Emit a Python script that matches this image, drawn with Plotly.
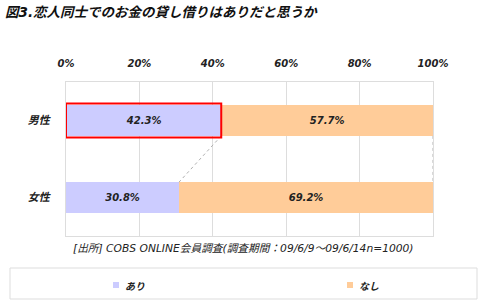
import plotly.graph_objects as go

# ---- data ----
categories = ["男性", "女性"]
ari = [42.3, 30.8]      # あり
nashi = [57.7, 69.2]    # なし
series_names = ["あり", "なし"]
tick_vals = [0, 20, 40, 60, 80, 100]
tick_text = ["0%", "20%", "40%", "60%", "80%", "100%"]
title_text = "図3.恋人同士でのお金の貸し借りはありだと思うか"
source_text = "[出所] COBS ONLINE会員調査(調査期間：09/6/9～09/6/14n=1000)"

# ---- style ----
W, H = 485, 302
L, R, T, B = 66, 52, 82, 66
PW, PH = W - L - R, H - T - B
C_ARI = "#CCCCFF"
C_NASHI = "#FFCC99"
FONT = "DejaVu Sans, Noto Sans CJK JP"
CJK = "Noto Sans CJK JP"
BW = 0.40

def px(x):
    return (x - L) / PW

def py(y):
    return (H - B - y) / PH

ypos = list(range(len(categories)))

fig = go.Figure()
fig.add_trace(go.Bar(
    y=ypos, x=ari, orientation="h", width=BW, name=series_names[0],
    marker=dict(color=C_ARI, line=dict(width=0)),
    text=[f"{v:.1f}%" for v in ari], textposition="inside",
    insidetextanchor="middle", textangle=0,
    textfont=dict(family=FONT, size=10, color="#222", style="italic", weight=700),
    showlegend=False, hoverinfo="skip"))
fig.add_trace(go.Bar(
    y=ypos, x=nashi, orientation="h", width=BW, name=series_names[1],
    marker=dict(color=C_NASHI, line=dict(width=0)),
    text=[f"{v:.1f}%" for v in nashi], textposition="inside",
    insidetextanchor="middle", textangle=0,
    textfont=dict(family=FONT, size=10, color="#222", style="italic", weight=700),
    showlegend=False, hoverinfo="skip"))

# series lines (dotted connectors)
fig.add_trace(go.Scatter(
    x=[ari[0], ari[1]], y=[ypos[0] + BW / 2, ypos[1] - BW / 2], mode="lines",
    line=dict(color="#B0B0B0", width=1, dash="dot"), showlegend=False, hoverinfo="skip"))
fig.add_trace(go.Scatter(
    x=[ari[0] + nashi[0], ari[1] + nashi[1]], y=[ypos[0] + BW / 2, ypos[1] - BW / 2], mode="lines",
    line=dict(color="#B0B0B0", width=1, dash="dot"), showlegend=False, hoverinfo="skip"))

shapes = []
# red highlight box
shapes.append(dict(type="rect", xref="x", yref="y", x0=0, x1=ari[0],
                   y0=ypos[0] - BW / 2 - 0.02, y1=ypos[0] + BW / 2 + 0.02,
                   line=dict(color="#FF0000", width=2), fillcolor="rgba(0,0,0,0)", layer="above"))
# legend box
shapes.append(dict(type="rect", xref="paper", yref="paper", x0=px(10), x1=px(477),
                   y0=py(299), y1=py(268), line=dict(color="#DDDDDD", width=1)))
# legend swatches
shapes.append(dict(type="rect", xref="paper", yref="paper", x0=px(113), x1=px(119),
                   y0=py(288), y1=py(282), line=dict(width=0), fillcolor=C_ARI))
shapes.append(dict(type="rect", xref="paper", yref="paper", x0=px(347), x1=px(353),
                   y0=py(288), y1=py(282), line=dict(width=0), fillcolor=C_NASHI))

annotations = [
    dict(text=source_text, xref="paper", yref="paper", x=px(243), y=py(248),
         xanchor="center", yanchor="middle", showarrow=False,
         font=dict(family=FONT, size=10.7, color="#222", style="italic")),
    dict(text=series_names[0], xref="paper", yref="paper", x=px(123), y=py(285),
         xanchor="left", yanchor="middle", showarrow=False,
         font=dict(family=CJK, size=10, color="#222", style="italic", weight=700)),
    dict(text=series_names[1], xref="paper", yref="paper", x=px(357), y=py(285),
         xanchor="left", yanchor="middle", showarrow=False,
         font=dict(family=CJK, size=10, color="#222", style="italic", weight=700)),
]

fig.update_layout(
    width=W, height=H, barmode="stack",
    margin=dict(l=L, r=R, t=T, b=B, autoexpand=False),
    paper_bgcolor="white", plot_bgcolor="white",
    title=dict(text=title_text, xref="container", yref="container", x=5 / W, y=1 - 12 / H,
               xanchor="left", yanchor="middle",
               font=dict(family=FONT, size=13.5, color="#111", style="italic", weight=700)),
    xaxis=dict(side="top", range=[0, 100], tickvals=tick_vals, ticktext=tick_text,
               showgrid=True, gridcolor="#DDDDDD", gridwidth=1,
               showline=True, linecolor="#DDDDDD", mirror=True, zeroline=False,
               ticks="outside", ticklen=10, tickcolor="rgba(0,0,0,0)",
               tickfont=dict(family=FONT, size=10, color="#222", style="italic", weight=700),
               fixedrange=True),
    yaxis=dict(range=[len(categories) - 0.5, -0.5], tickvals=ypos, ticktext=categories,
               showgrid=False, showline=True, linecolor="#DDDDDD", mirror=True,
               zeroline=False, ticks="outside", ticklen=13, tickcolor="rgba(0,0,0,0)",
               tickfont=dict(family=CJK, size=11, color="#222", style="italic", weight=700),
               fixedrange=True),
    shapes=shapes, annotations=annotations,
)

fig.write_html("out.html")
